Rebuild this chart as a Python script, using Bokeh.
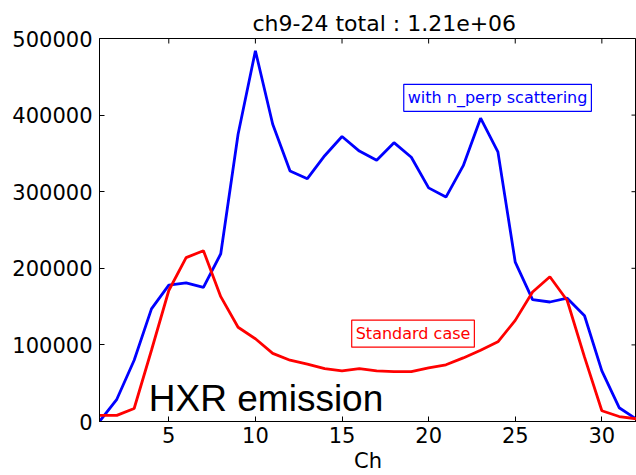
import math
from bokeh.plotting import figure
from bokeh.models import Range1d, FixedTicker, NumeralTickFormatter, Label, Title
from bokeh.embed import file_html
from bokeh.resources import INLINE

# ---- data ----
channels = list(range(1, 33))
with_scattering = [0, 29000, 80000, 147000, 178000, 181000, 175000, 219000,
                   375000, 484000, 388000, 327000, 317000, 347000, 372000, 353000,
                   341000, 364000, 345000, 305000, 293000, 334000, 396000, 352000,
                   208000, 159000, 156000, 161000, 138000, 66000, 18000, 3000]
standard_case = [8000, 8000, 17000, 93000, 171000, 214000, 223000, 163000,
                 123000, 108000, 89000, 80000, 75000, 69000, 66000, 69000,
                 66000, 65000, 65000, 70000, 74000, 83000, 93000, 104000,
                 132000, 169000, 189000, 158000, 84000, 14000, 6500, 3500]
x_ticks = [5, 10, 15, 20, 25, 30]
y_ticks = [0, 100000, 200000, 300000, 400000, 500000]
x_min, x_max = 1, 32
y_min, y_max = 0, 500000
title_text = "ch9-24 total : 1.21e+06"
x_label = "Ch"
label_blue = "with n_perp scattering"
label_red = "Standard case"
label_big = "HXR emission"

FONT = "DejaVu Sans"

p = figure(width=636, height=475,
           min_border_left=99, min_border_top=38, min_border_right=0,
           min_border_bottom=54,
           x_range=Range1d(x_min, x_max), y_range=Range1d(y_min, y_max),
           output_backend="svg", toolbar_location=None, title=None)

p.add_layout(Title(text=title_text, text_font=FONT, text_font_size="22px",
                   text_font_style="normal", text_color="black",
                   align="left", offset=153, standoff=5), "above")

p.line(channels, with_scattering, line_color="#0000ff", line_width=2.8)
p.line(channels, standard_case, line_color="#ff0000", line_width=2.8)

# inward ticks on the top and right spines (half of each dash is clipped by the frame)
p.scatter(x=x_ticks, y=[y_max] * len(x_ticks), marker="dash", size=10,
          angle=math.pi / 2, line_color="black", line_width=1)
p.scatter(x=[x_max] * len(y_ticks), y=y_ticks, marker="dash", size=10,
          line_color="black", line_width=1)

p.xgrid.visible = False
p.ygrid.visible = False
p.outline_line_color = "black"
p.outline_line_width = 1
p.background_fill_color = "white"
p.border_fill_color = "white"

for ax in p.xaxis:
    ax.ticker = FixedTicker(ticks=x_ticks)
    ax.major_tick_in = 5
    ax.major_tick_out = 0
    ax.minor_tick_line_color = None
    ax.major_label_text_font = FONT
    ax.major_label_text_font_size = "21px"
    ax.major_label_text_color = "black"
    ax.major_label_text_line_height = 1.0
    ax.major_label_standoff = 5
    ax.axis_label = x_label
    ax.axis_label_text_font = FONT
    ax.axis_label_text_font_size = "21px"
    ax.axis_label_text_font_style = "normal"
    ax.axis_label_text_color = "black"
    ax.axis_label_text_line_height = 1.0
    ax.axis_label_standoff = 3
    ax.axis_line_color = "black"

for ax in p.yaxis:
    ax.ticker = FixedTicker(ticks=y_ticks)
    ax.formatter = NumeralTickFormatter(format="0")
    ax.major_tick_in = 5
    ax.major_tick_out = 0
    ax.minor_tick_line_color = None
    ax.major_label_text_font = FONT
    ax.major_label_text_font_size = "21px"
    ax.major_label_text_color = "black"
    ax.major_label_standoff = 7
    ax.axis_line_color = "black"

p.add_layout(Label(x=23.98, y=422500, text=label_blue, text_font=FONT,
                   text_font_size="16px", text_color="#0000ff",
                   text_align="center", text_baseline="middle",
                   border_line_color="#0000ff", border_line_width=1.2,
                   background_fill_color="white", padding=4))
p.add_layout(Label(x=19.1, y=114700, text=label_red, text_font=FONT,
                   text_font_size="16px", text_color="#ff0000",
                   text_align="center", text_baseline="middle",
                   border_line_color="#ff0000", border_line_width=1.2,
                   background_fill_color="white", padding=4))
p.add_layout(Label(x=3.85, y=29500, text=label_big, text_font="Liberation Sans",
                   text_font_size="37px", text_color="black",
                   text_align="left", text_baseline="alphabetic"))

open("out.html", "w").write(file_html(p, INLINE))
